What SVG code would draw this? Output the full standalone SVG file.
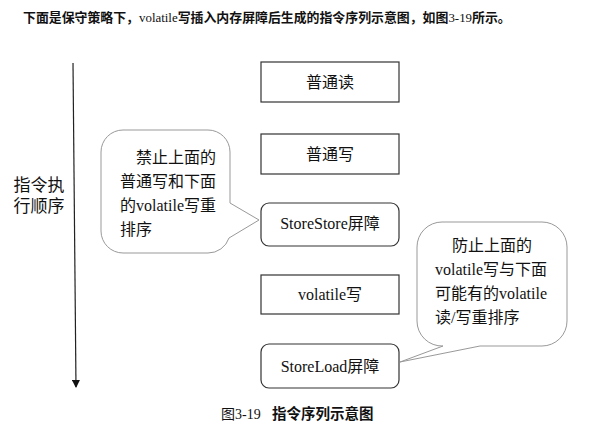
<svg xmlns="http://www.w3.org/2000/svg" width="601" height="438" viewBox="0 0 601 438">
<style>
text{font-family:"Liberation Serif","Noto Sans CJK SC",serif;fill:#111;}
.t{font-size:16px;text-anchor:middle;}
.b{font-size:16px;}
.box{fill:#fff;stroke:#333;stroke-width:1.2;}
.bub{fill:#fff;stroke:#999;stroke-width:1;}
.hd{font-size:12.9px;font-weight:bold;}
.n{font-weight:normal;}
</style>
<defs>
<marker id="ah" markerWidth="8" markerHeight="8" refX="7" refY="4" orient="auto" markerUnits="userSpaceOnUse">
<path d="M0,0 L8,4 L0,8 z" fill="#111"/>
</marker>
</defs>
<text class="hd" x="23" y="22">下面是保守策略下，<tspan class="n">volatile</tspan>写插入内存屏障后生成的指令序列示意图，如图<tspan class="n">3-19</tspan>所示。</text>
<g id="connectors">
<line x1="73" y1="63" x2="76" y2="387" stroke="#222" stroke-width="1.2" marker-end="url(#ah)"/>
</g>
<g id="axis-label">
<text class="t" style="font-size:17px" x="39" y="191">指令执</text>
<text class="t" style="font-size:17px" x="39" y="212">行顺序</text>
</g>
<g id="n1"><rect class="box" x="261" y="62" width="138" height="40"/><text class="t" x="330" y="88">普通读</text></g>
<g id="n2"><rect class="box" x="261" y="134" width="138" height="40"/><text class="t" x="330" y="160">普通写</text></g>
<g id="n3"><rect class="box" x="261" y="203" width="138" height="43" rx="8"/><text class="t" x="330" y="229">StoreStore屏障</text></g>
<g id="n4"><rect class="box" x="261" y="275" width="138" height="39"/><text class="t" x="330" y="300">volatile写</text></g>
<g id="n5"><rect class="box" x="261" y="344" width="138" height="44" rx="8"/><text class="t" x="330" y="372">StoreLoad屏障</text></g>
<g id="bubble-left">
<path class="bub" d="M123,130 H208 A22,22 0 0 1 230,152 V203 L259,220 L229,238 A22,22 0 0 1 208,253 H123 A22,22 0 0 1 101,231 V152 A22,22 0 0 1 123,130 Z"/>
<text class="b" x="136" y="163">禁止上面的</text>
<text class="b" x="120" y="187">普通写和下面</text>
<text class="b" x="120" y="211">的volatile写重</text>
<text class="b" x="120" y="235">排序</text>
</g>
<g id="bubble-right">
<path class="bub" d="M442,222 H542 A25,25 0 0 1 567,247 V321 A25,25 0 0 1 542,346 H480 L400,362 L443,346 A25,25 0 0 1 417,321 V247 A25,25 0 0 1 442,222 Z"/>
<text class="b" x="452" y="251">防止上面的</text>
<text class="b" x="435" y="275">volatile写与下面</text>
<text class="b" x="435" y="299">可能有的volatile</text>
<text class="b" x="435" y="323">读/写重排序</text>
</g>
<g id="caption">
<text x="221" y="419" style="font-size:14px">图3-19</text>
<text x="272" y="419" style="font-size:14.5px;font-weight:bold">指令序列示意图</text>
</g>
</svg>
